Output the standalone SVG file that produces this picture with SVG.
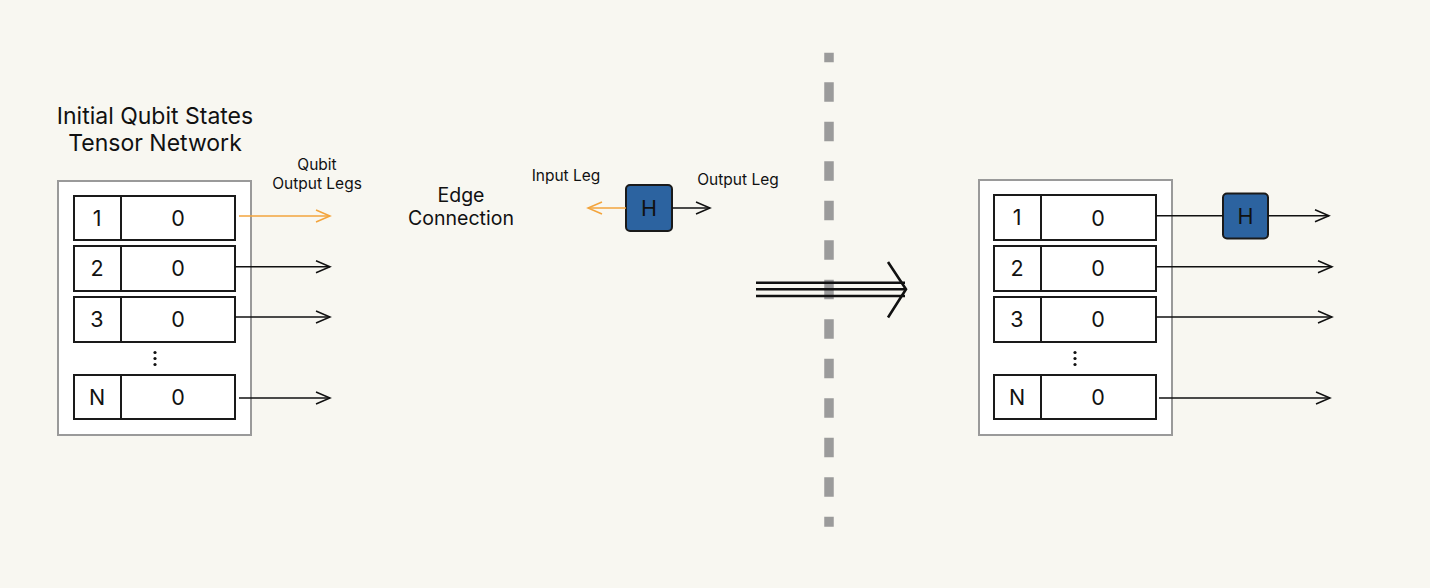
<svg xmlns="http://www.w3.org/2000/svg" width="1430" height="588" viewBox="0 0 1430 588">
<defs>
<marker id="ah" markerUnits="userSpaceOnUse" markerWidth="20" markerHeight="16" refX="15" refY="8" orient="auto" viewBox="0 0 20 16">
<path d="M1,2 L15,8 L1,14" fill="none" stroke="#111" stroke-width="1.5"/>
</marker>
<marker id="aho" markerUnits="userSpaceOnUse" markerWidth="20" markerHeight="16" refX="15" refY="8" orient="auto" viewBox="0 0 20 16">
<path d="M1,2 L15,8 L1,14" fill="none" stroke="#f3a43c" stroke-width="1.5"/>
</marker>
</defs>
<style>
text{font-family:Inter,"Liberation Sans",sans-serif;fill:#111;text-anchor:middle}
.outer{fill:#fff;stroke:#9a9a9a;stroke-width:2}
.cell{fill:#fff;stroke:#1a1a1a;stroke-width:2}
.num{font-size:21.5px}
.lbl{font-size:15.5px}
.ttl{font-size:23px}
.edge{font-size:19.5px}
.gate{fill:#2c63a0;stroke:#1a1a1a;stroke-width:2}
.leg{stroke:#111;stroke-width:1.5;fill:none}
.oleg{stroke:#f3a43c;stroke-width:1.5;fill:none}
</style>
<rect width="1430" height="588" fill="#f8f7f1"/>

<g id="title">
<text class="ttl" x="155" y="124">Initial Qubit States</text>
<text class="ttl" x="155" y="151">Tensor Network</text>
</g>

<g id="left-network">
<rect class="outer" x="58" y="181" width="193" height="254"/>
<g id="l-q1"><rect class="cell" x="74" y="196" width="161" height="44"/><line class="cell" x1="121" y1="196" x2="121" y2="240"/><text class="num" x="97" y="226">1</text><text class="num" x="178" y="226">0</text></g>
<g id="l-q2"><rect class="cell" x="74" y="246" width="161" height="45"/><line class="cell" x1="121" y1="246" x2="121" y2="291"/><text class="num" x="97" y="276">2</text><text class="num" x="178" y="276">0</text></g>
<g id="l-q3"><rect class="cell" x="74" y="297" width="161" height="45"/><line class="cell" x1="121" y1="297" x2="121" y2="342"/><text class="num" x="97" y="327">3</text><text class="num" x="178" y="327">0</text></g>
<g id="l-dots" fill="#111"><circle cx="155" cy="352.5" r="1.6"/><circle cx="155" cy="358.5" r="1.6"/><circle cx="155" cy="364.5" r="1.6"/></g>
<g id="l-qN"><rect class="cell" x="74" y="375" width="161" height="44"/><line class="cell" x1="121" y1="375" x2="121" y2="419"/><text class="num" x="97" y="405">N</text><text class="num" x="178" y="405">0</text></g>
</g>

<g id="labels">
<text class="lbl" x="317" y="170">Qubit</text>
<text class="lbl" x="317" y="188.5">Output Legs</text>
<text class="edge" x="461" y="202">Edge</text>
<text class="edge" x="461" y="225">Connection</text>
<text class="lbl" x="566" y="181">Input Leg</text>
<text class="lbl" x="738" y="185">Output Leg</text>
</g>

<g id="gate-h">
<rect class="gate" x="626" y="185" width="46" height="46" rx="4"/>
<text x="649" y="216" style="font-size:21.5px">H</text>
</g>

<g id="divider">
<line x1="829" y1="52.7" x2="829" y2="526.7" stroke="#9b9b9b" stroke-width="9.5" stroke-dasharray="19.5 20" stroke-dashoffset="9.9"/>
</g>

<g id="implies">
<g stroke="#111" stroke-width="2.6" fill="none">
<line x1="756" y1="282.7" x2="905" y2="282.7"/>
<line x1="756" y1="289.3" x2="906" y2="289.3"/>
<line x1="756" y1="296" x2="905" y2="296"/>
<path d="M888,262 L906,289.3 L888,317.5"/>
</g>
</g>

<g id="right-network">
<rect class="outer" x="979" y="180" width="193" height="255"/>
<g id="r-q1"><rect class="cell" x="994" y="195" width="162" height="45"/><line class="cell" x1="1041" y1="195" x2="1041" y2="240"/><text class="num" x="1017" y="225">1</text><text class="num" x="1098" y="226">0</text></g>
<g id="r-q2"><rect class="cell" x="994" y="246" width="162" height="45"/><line class="cell" x1="1041" y1="246" x2="1041" y2="291"/><text class="num" x="1017" y="276">2</text><text class="num" x="1098" y="276">0</text></g>
<g id="r-q3"><rect class="cell" x="994" y="297" width="162" height="45"/><line class="cell" x1="1041" y1="297" x2="1041" y2="342"/><text class="num" x="1017" y="327">3</text><text class="num" x="1098" y="327">0</text></g>
<g id="r-dots" fill="#111"><circle cx="1075" cy="352.5" r="1.6"/><circle cx="1075" cy="358.5" r="1.6"/><circle cx="1075" cy="364.5" r="1.6"/></g>
<g id="r-qN"><rect class="cell" x="994" y="375" width="162" height="44"/><line class="cell" x1="1041" y1="375" x2="1041" y2="419"/><text class="num" x="1017" y="405">N</text><text class="num" x="1098" y="405">0</text></g>
</g>

<g id="gate-h-right">
<rect class="gate" x="1223" y="193.5" width="45" height="45" rx="4"/>
<text x="1245.5" y="224" style="font-size:21.5px">H</text>
</g>

<g id="connectors">
<line class="oleg" x1="239" y1="216" x2="330" y2="216" marker-end="url(#aho)"/>
<line class="leg" x1="235" y1="266.7" x2="330" y2="266.7" marker-end="url(#ah)"/>
<line class="leg" x1="235" y1="317" x2="330" y2="317" marker-end="url(#ah)"/>
<line class="leg" x1="239" y1="398" x2="330" y2="398" marker-end="url(#ah)"/>
<line class="oleg" x1="626" y1="208" x2="588" y2="208" marker-end="url(#aho)"/>
<line class="leg" x1="672" y1="208" x2="710" y2="208" marker-end="url(#ah)"/>
<line class="leg" x1="1156" y1="215.7" x2="1223" y2="215.7"/>
<line class="leg" x1="1268" y1="215.7" x2="1329" y2="215.7" marker-end="url(#ah)"/>
<line class="leg" x1="1156" y1="266.7" x2="1332" y2="266.7" marker-end="url(#ah)"/>
<line class="leg" x1="1156" y1="317" x2="1332" y2="317" marker-end="url(#ah)"/>
<line class="leg" x1="1159" y1="398" x2="1330" y2="398" marker-end="url(#ah)"/>
</g>
</svg>
